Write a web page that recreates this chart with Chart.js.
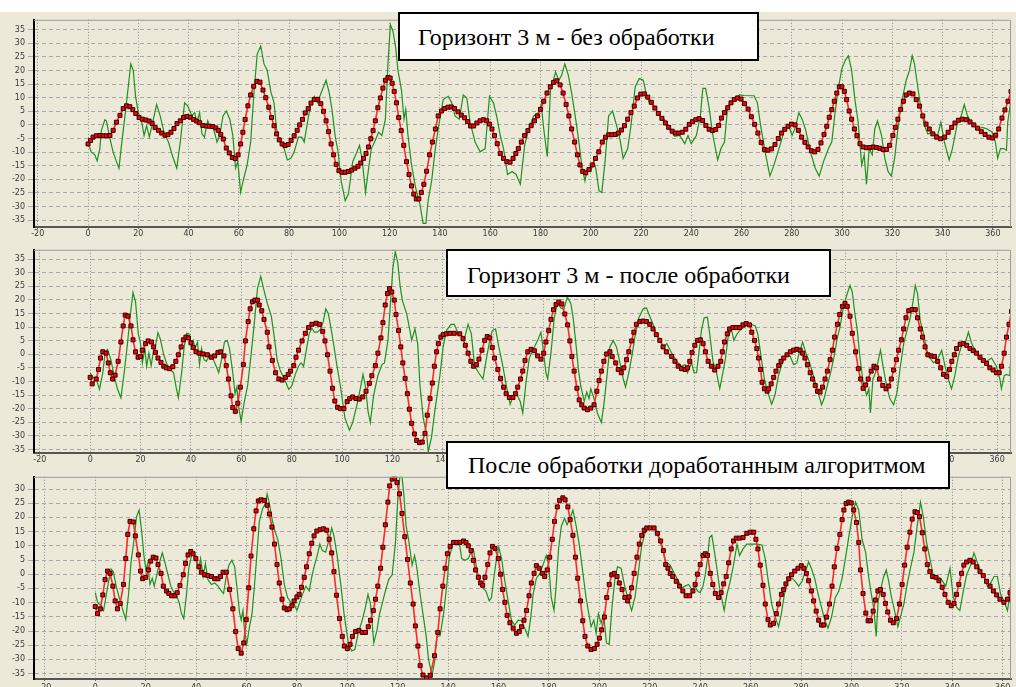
<!DOCTYPE html>
<html><head><meta charset="utf-8">
<script src="https://cdn.jsdelivr.net/npm/chart.js@4.4.0/dist/chart.umd.min.js"></script>
<style>
html,body{margin:0;padding:0;background:#fff;overflow:hidden;width:1016px;height:687px;position:relative;}
canvas{position:absolute;left:0;}
.box{position:absolute;background:#fff;border:2px solid #000;box-sizing:border-box;font-family:"Liberation Serif","Times New Roman",serif;font-size:24px;color:#000;white-space:nowrap;z-index:5;}
</style></head><body>
<canvas id="c1" width="1016" height="230" style="top:12px"></canvas>
<canvas id="c2" width="1016" height="227" style="top:242px"></canvas>
<canvas id="c3" width="1016" height="231" style="top:469px"></canvas>
<div class="box" style="left:398px;top:12px;width:361px;height:49px;line-height:46px;padding-left:18px">Горизонт 3 м - без обработки</div>
<div class="box" style="left:446px;top:249px;width:385px;height:48px;line-height:48px;padding-left:19px">Горизонт 3 м - после обработки</div>
<div class="box" style="left:446px;top:441px;width:504px;height:48px;line-height:44px;padding-left:20px">После обработки доработанным алгоритмом</div>
<script>
// ---- data: [x, value] pairs ----
const xTickStep = 20;
const yTickStep = 5;

const p1Red = [[0,-7],[1,-5.7],[2,-4.5],[3.3,-4],[4.7,-3.9],[6,-4],[7.3,-4],[8.7,-3.9],[10,-2],[11.3,1],[12.7,3.5],[14,6],[15.3,7],[16.6,6.7],[17.8,5.6],[19,4.2],[20.3,2.7],[21.6,2.1],[23,1.8],[24.3,1.4],[25.5,0.6],[26.7,-1],[28,-2],[29.3,-3],[30.6,-3.8],[31.8,-3.6],[33,-2.7],[34.2,-1.3],[35.4,0.5],[36.7,1.5],[38,2.7],[39.3,3.1],[40.7,2.8],[42,2],[43.2,1.4],[44.4,0.8],[45.7,-0.2],[47,-0.4],[48.3,-0.5],[49.6,-0.6],[50.8,-1.1],[51.8,-2],[52.8,-3.5],[53.8,-5.2],[55,-8.5],[56.2,-10.3],[57.4,-12],[58.6,-12.4],[59.7,-11],[60.7,-7],[61.6,-2.7],[62.5,2],[63.6,7],[64.7,11],[65.9,14.2],[67.2,16],[68.4,15.7],[69.6,12.8],[70.7,10],[71.9,6.5],[73,2.7],[74,-0.3],[75,-3.3],[76.1,-5.5],[77.2,-7],[78.4,-7.6],[79.6,-7.2],[80.8,-5.7],[82,-4],[83.2,-2],[84.2,0],[85.3,2],[86.4,4.4],[87.6,6],[88.7,8],[90,9.3],[91.4,9.4],[92.6,7.8],[93.7,5],[94.7,1.5],[95.7,-2.5],[96.7,-7],[97.7,-11],[98.7,-14.5],[99.8,-16.8],[101,-17.4],[102.3,-17.4],[103.6,-17.1],[104.9,-16.6],[106.2,-15.9],[107.4,-15.2],[108.5,-14],[109.6,-12.3],[110.6,-10.5],[111.6,-8.1],[112.5,-5.1],[113.4,-2.1],[114.3,1.5],[115.3,6.3],[116.3,9.9],[117.3,13.5],[118.3,16.4],[119.3,17.4],[120.2,17.2],[121,15.3],[121.8,12.3],[122.7,8.1],[123.6,2.7],[124.6,-2.1],[125.6,-7.5],[126.7,-13.5],[127.7,-18.2],[128.7,-22.4],[129.6,-25.4],[130.6,-27.2],[131.6,-27.2],[132.6,-24.8],[133.6,-21.8],[134.7,-17],[135.9,-11],[137,-6.3],[138.2,-1.5],[139.3,3.3],[140.6,5.1],[141.9,6],[143.2,6.5],[144.5,6.6],[145.8,6],[147.2,4.8],[148.5,3.6],[149.8,2.6],[151,1.2],[152.2,-0.4],[153.4,-0.4],[154.7,0.7],[156,1.5],[157.3,1.9],[158.6,1.5],[159.7,0.3],[160.7,-1.5],[161.7,-3.9],[162.8,-6.9],[164,-10.5],[165.3,-12.3],[166.6,-13.5],[167.9,-13.7],[169.1,-12.3],[170.2,-10.5],[171.2,-8.7],[172.4,-6.3],[173.7,-3.9],[175,-2.1],[176.3,-0.3],[177.6,1.5],[178.8,3.3],[180,5.7],[181.3,8.7],[182.6,11.7],[183.9,14],[185.2,15.6],[186.5,16.2],[187.8,14.7],[189,11.7],[190.2,7.5],[191.3,3.3],[192.4,-1.5],[193.6,-6.3],[194.7,-11],[195.7,-14.7],[196.8,-17.1],[198,-17.6],[199.3,-16.4],[200.6,-14.7],[201.9,-12.3],[203.2,-9.9],[204.6,-6.3],[205.9,-4.5],[207.2,-3.6],[208.5,-3.6],[209.8,-3.5],[211,-3],[212.2,-1.9],[213.4,-0.3],[214.7,2.1],[216,4.5],[217.3,6.9],[218.6,9.9],[219.9,11.3],[221.3,11.4],[222.7,10.2],[224.1,8.3],[225.5,6.2],[226.9,4.2],[228.3,2.4],[229.7,0.7],[231,-0.9],[232.4,-2.3],[233.7,-3],[235,-3],[236.4,-2.7],[237.8,-1.6],[239.2,0.2],[240.5,1.2],[241.8,1.9],[243.1,2.3],[244.5,1.6],[245.8,-0.2],[247.1,-1.6],[248.4,-2.1],[249.7,-1.7],[250.9,-0.2],[252,2.5],[253.2,4.5],[254.5,6.3],[255.8,8.1],[257.1,9.3],[258.4,9.9],[259.8,9.5],[261.2,7.8],[262.6,5.8],[263.9,3],[265.2,0.2],[266.5,-3],[267.8,-6.5],[269.1,-9.1],[270.5,-9.3],[271.9,-8.8],[273.3,-7.2],[274.6,-5],[275.9,-3],[277.2,-1.6],[278.5,-0.5],[279.9,0.3],[281.3,0],[282.6,-2],[283.9,-4.5],[285.2,-6.4],[286.5,-8.1],[287.8,-9.5],[289.1,-9.9],[290.4,-9],[291.6,-6.6],[292.8,-3.5],[293.9,-0.5],[294.9,2.8],[295.9,5.6],[296.9,8.7],[297.9,11.7],[298.9,14],[299.9,14],[300.9,12.3],[301.8,9.3],[302.8,5.1],[303.8,2.1],[304.9,-1.5],[305.9,-3.9],[307.1,-6.9],[308.4,-8.1],[309.7,-8.4],[311,-8.3],[312.4,-8.1],[313.7,-8.3],[315,-8.6],[316.3,-9],[317.7,-9],[318.9,-7.5],[320.2,-3.9],[321.2,-0.9],[322.2,2.1],[323.3,5.7],[324.4,8.7],[325.5,11],[326.8,11.7],[328.2,11.4],[329.5,9.3],[330.8,6.9],[332.1,3.3],[333.4,0.3],[334.7,-1.5],[336.1,-3.3],[337.6,-4.5],[339.2,-5.1],[340.8,-4.5],[342.2,-2.7],[343.6,-0.9],[344.9,0.7],[346.3,1.7],[347.8,2.1],[349.4,1.9],[350.9,1.1],[352.4,0],[353.9,-1.2],[355.4,-2.5],[356.9,-3.5],[358.4,-4.5],[359.8,-4.8],[361.1,-3.8],[362.3,-1.5],[363.6,2.5],[364.8,5.5],[366,8.7],[367.2,12.3]];

const p1Green = [[0,-6.5],[1.3,-10],[2.7,-11],[3.6,-13.2],[4.7,-8.7],[5.3,-2],[6.7,1.9],[7.3,1.5],[8.7,-5],[10,-10],[11.3,-13.5],[12.3,-15.9],[13.3,-7.5],[14.7,3.3],[16,14],[17,22.4],[18,20],[18.9,10.5],[20,4.5],[21.3,1.5],[22.3,-3.9],[23.3,-0.3],[24.4,-4.5],[25.7,0.9],[27.3,7.5],[28.7,3.3],[30.4,-3.3],[32,-6.3],[33.7,-11.7],[35.3,-15.9],[36.7,-6.3],[38.4,8.1],[39.7,6.9],[41.3,3.3],[42.4,4.5],[43.3,0.9],[44.4,4.5],[45.3,-3.3],[46.3,-4.5],[47.6,1.5],[48.7,-0.9],[50,-1.5],[51.3,-6.3],[52.4,-3.9],[53.7,3.3],[55,5.1],[56.4,2.1],[57.6,-3.9],[58.7,-15.9],[59.6,-13.5],[60.7,-24.8],[61.7,-20.6],[63.3,-14.7],[64.7,-6.3],[66,11.7],[67.3,26],[68.7,29],[70,22.4],[71.3,20],[72.7,12.3],[74,8.1],[75,-1.5],[76.4,-6.3],[78,-8.7],[79.3,-12.9],[80.7,-12.3],[82,-9.9],[83.7,-4.5],[85,-4.5],[86,-6.3],[87.3,0.9],[88.7,8.1],[90,10.5],[91.3,8.1],[92.7,11.7],[94.7,16.4],[95.9,12],[97,6],[98.3,-4],[99.5,-10],[100.7,-20.6],[102.3,-27.8],[103.6,-25.4],[105.3,-13.5],[106.7,-10.5],[108,-7.5],[109,-12.3],[110.4,-24.8],[111.3,-18.2],[112.7,-8.7],[114,-6.3],[115.6,-2.7],[116.9,-3.9],[118.3,2.1],[119.3,22.4],[120.3,36.8],[121.3,34.4],[122.4,28.4],[123.3,20],[124.7,12.8],[125.7,2.1],[126.4,5.7],[127.3,-3.9],[128.7,-14.7],[130.3,-23],[132,-29],[133.3,-36.2],[134.4,-36.2],[135.3,-27.8],[136.7,-20.6],[138,-9.9],[139.3,-1.5],[141.3,9.3],[143.3,10.5],[144.7,8.1],[146,3.3],[147.7,2.1],[149.3,11],[150.7,9.9],[152,0.9],[154,-6.3],[156,-9.9],[158,-8.7],[159.7,10.5],[161.3,8.1],[162.7,2.7],[164,-3.9],[165.3,-8.7],[166.9,-18.2],[168.7,-17.1],[170.3,-18.2],[172,-21.8],[173.7,-7.5],[175.3,-1.5],[177.3,3.3],[179.1,4.5],[180.3,7.5],[181.3,-1.5],[182.7,-11.7],[184,12.8],[186,19.4],[187.3,16.4],[188.4,18.2],[189.7,22.4],[191.1,18.2],[192.4,11.7],[194,2.1],[195.3,-6.3],[196.4,-14.7],[197.7,-20.6],[198.7,-15.9],[200,-17.1],[201.1,-13.5],[202,-15.9],[203.3,-24.2],[204.4,-24.8],[205.7,-13.5],[207.1,3.3],[208.7,5.1],[210.3,-0.3],[211.6,-5.1],[212.9,-12.3],[214.7,-8.7],[216,-0.3],[217.7,14],[219.3,17],[220.9,16.4],[222,11.7],[223.3,8.1],[225.3,6.9],[227.3,3.3],[229.3,2.1],[231.3,-1.5],[233.4,-4.2],[235.4,-3.9],[237.4,-6.9],[238.7,-3.9],[240,-6.9],[242,-3.9],[243.6,3.3],[244.6,13.4],[245.7,13.4],[247,6.9],[248.6,-3.9],[250.5,-12.9],[251.8,-8.7],[253.2,-6.3],[254.5,6.9],[255.8,8.1],[257.1,9.3],[259.1,11],[261.1,10.8],[265,10.7],[266.3,8.1],[267.6,-0.3],[269.6,-11],[271.3,-18.8],[272.9,-14.7],[274.9,-8.7],[276.8,-2.7],[278.8,-0.3],[280.1,-3.9],[281.4,-0.9],[282.8,4.5],[284.1,2.1],[285.4,-1.5],[287.4,-9.9],[289.3,-15.9],[290.9,-18.8],[292.6,-13.5],[294.6,-8.7],[295.9,-6.3],[297.2,4.5],[298.6,14],[299.9,20.6],[301.2,23.6],[302.5,25.4],[303.8,20],[305.1,9.3],[306.4,0.9],[307.8,-14.7],[308.8,-11],[309.7,-21.8],[310.8,-8.7],[312,-11],[313,-1.5],[314.1,1.5],[315.7,-3.9],[317,-12.3],[318.3,-17.1],[319.6,-18.8],[320.9,-12.3],[322.2,-1.5],[323.6,8.1],[325.5,16.4],[326.8,20],[327.9,25.4],[328.8,22.4],[330.1,14],[331.4,5.7],[332.8,-0.3],[334.1,-3.3],[336.1,-2.7],[338,-3.9],[339.3,0.9],[340.7,-6.3],[342.6,-12.9],[343.9,-8.7],[345.9,0.9],[347.2,2.7],[348.6,7.5],[349.9,3.3],[351.8,0.3],[353.8,-1.5],[355.8,-0.9],[357.8,-1.5],[359.7,-2.7],[361,-6.3],[361.9,-12.3],[363,-8.7],[364.3,-8.7],[365.4,-9.3],[365.9,0.9],[367,8.1]];

const p2Red = [[0,-8.5],[0.8,-10.9],[2.4,-9.1],[3.3,-5.6],[4.1,-1.4],[5,0.9],[6.3,0.4],[7.2,-3.2],[8,-6.8],[8.9,-9.1],[9.9,-7.7],[11.1,-2.6],[12.2,4.5],[13.1,10.4],[13.9,14.4],[15,14],[16.2,10.4],[17,5.3],[18,0.9],[19,-1.1],[20,-0.8],[20.7,1.5],[22,3.9],[23,4.9],[24.3,4.5],[25.2,2.7],[25.9,0.7],[26.9,-1.4],[28.1,-3],[29.2,-4.4],[30.2,-5],[31.5,-5.3],[32.8,-4.6],[34,-2.6],[35,-0.2],[36.1,2.7],[37,5.3],[38,6.3],[39,6],[40,4.2],[40.9,2.5],[42,0.9],[43.3,0.4],[44.8,0.1],[46.5,-0.2],[48.1,-1.1],[49.4,-0.6],[50.7,0.6],[51.8,0.9],[53.1,-0.6],[54,-4.2],[54.9,-9.1],[55.9,-15.3],[56.6,-19.6],[57.6,-21],[58.6,-18],[59.6,-12.1],[60.8,-3.8],[61.6,4.9],[62.7,12],[63.5,16.7],[64.4,19.3],[65.4,19.9],[66.4,19.9],[67.1,18.1],[68.1,16],[69,12.8],[70.3,8.1],[71,2.7],[72.3,-2.3],[73.6,-6.8],[74.9,-9.1],[76.2,-9.5],[77.5,-8.5],[78.6,-7.4],[79.5,-6.2],[80.8,-4.2],[81.7,-1.1],[82.7,1.5],[84.1,4.9],[85.4,7.7],[86.7,9.8],[88,11],[89.7,11.4],[91,11],[92.3,8.4],[93.2,4.9],[94.2,-0.2],[95.2,-6.2],[96.2,-12.5],[97.1,-17.2],[98.2,-19.5],[99.3,-20],[100.7,-20],[102,-17.4],[103,-16.3],[104.2,-15.7],[105.5,-16.3],[106.8,-16.5],[108.2,-15.7],[109.5,-13.6],[110.8,-10.7],[111.8,-7.9],[113.2,-4.2],[114.2,0.4],[115.4,6],[116.2,11.6],[117.1,18.1],[118,22.3],[118.8,24.1],[119.7,22.9],[120.7,19.9],[121.4,14.6],[122.4,8.7],[123.3,2.7],[124.1,-3.2],[125,-8.9],[125.9,-14.5],[126.7,-20.2],[127.6,-25.4],[128.7,-29.3],[129.6,-31.7],[130.7,-32.5],[131.8,-32.3],[132.9,-29.1],[133.8,-22.4],[134.9,-16.3],[135.8,-10.6],[136.6,-4.4],[137.5,0.9],[138.2,3.9],[139.2,6.3],[140.1,7.2],[141.4,7.5],[142.8,7.7],[144.5,7.7],[146.7,7.5],[148,5.7],[148.9,3.3],[150,0.4],[151.1,-2.6],[152.2,-4.4],[153.3,-3.8],[154.3,-1.8],[155.5,1.5],[156.6,5.1],[157.6,6.5],[158.6,6],[159.6,2.5],[160.5,-1.4],[161.8,-5.6],[162.9,-8.9],[164.1,-12.1],[165.1,-14.5],[166.4,-15.9],[167.8,-15.9],[168.8,-14.5],[169.7,-12.1],[170.8,-9.1],[171.7,-6.2],[172.6,-2.3],[173.7,0.9],[175,1.8],[176.3,1.3],[177.6,-0.6],[178.9,-1.8],[180,0.4],[180.9,4.5],[182,8.7],[182.9,12.8],[183.9,16.4],[184.9,18.3],[186,19.2],[187.2,18.5],[188.4,14.8],[189.5,10.8],[190.4,4.9],[191.2,-0.8],[192.1,-6.2],[193.2,-12.5],[194.1,-16.8],[195.1,-18.6],[196.1,-19.8],[197.4,-20.4],[198.7,-19.8],[200,-18.6],[201.1,-13.6],[202,-9.7],[202.9,-6.2],[203.9,-2.6],[205,0.1],[206.3,0.9],[207.2,-0.8],[208.6,-3.2],[209.6,-5.6],[210.8,-6.8],[211.8,-5],[212.9,-2],[213.8,0.9],[214.9,4.9],[215.8,8.1],[216.8,11],[218.2,12],[219.5,12.2],[220.8,12],[222.1,11],[223.4,9.3],[224.7,7.2],[226.1,5.1],[227.4,2.7],[228.7,0.9],[230.8,-0.8],[232.1,-2.6],[233.4,-4.4],[234.7,-5.3],[236.1,-5.6],[237.1,-5],[238,-2.6],[238.9,0.6],[240,3.3],[241.1,5.1],[242.2,5.3],[243.3,3.9],[244.2,0.9],[245.3,-2.6],[246.6,-4.4],[247.9,-5.8],[249.2,-4.4],[250.3,-2.6],[250.9,0.9],[251.8,4.5],[252.9,7.5],[253.8,9.3],[255.1,9.8],[256.4,9.8],[257.8,9.8],[259.1,10.8],[260.4,11.3],[261.7,10.8],[262.6,8.1],[263.7,5.1],[264.6,2.1],[265.3,-1.4],[266.1,-5.6],[266.7,-10.3],[267.6,-12.7],[268.7,-13.6],[269.3,-12.7],[270.3,-10.9],[271.3,-8.5],[272.2,-6.2],[273.3,-4.2],[274.2,-2.6],[275.3,-1.4],[276.6,-0.2],[277.9,0.9],[279.2,1.5],[280.5,1.8],[281.8,1.5],[282.8,0.4],[283.7,-1.4],[284.7,-3.8],[285.8,-6.8],[286.7,-9.1],[287.8,-11.5],[288.7,-13.6],[289.7,-13.9],[290.7,-12.1],[291.7,-9.1],[292.6,-6.2],[293.7,-2],[294.6,1.5],[295.5,6.3],[296.6,11],[297.5,14.6],[298.6,17.6],[299.6,18.7],[300.5,17.6],[301.6,14],[302.5,7.7],[303.8,0.9],[304.9,-5.3],[305.8,-9.1],[306.8,-12.5],[307.8,-11.3],[308.8,-9.1],[310,-6.2],[311.1,-4.4],[312.1,-5],[313.3,-9.1],[314.6,-11.5],[315.9,-12.7],[317,-11.7],[318,-9.1],[318.9,-5.8],[320,-2],[320.9,1.5],[322,5.3],[322.9,9.3],[323.8,13.4],[324.9,16],[326.2,16.4],[327.5,16.4],[328.4,13.4],[329.5,9.3],[330.4,6.3],[331.4,2.7],[332.5,-0.2],[333.8,-0.6],[335.1,-0.8],[336.4,-2.6],[337.6,-5],[338.7,-7.4],[340,-8.2],[341.1,-5.6],[342,-2.6],[343,-0.2],[343.9,2.1],[345.3,3.7],[346.6,3.9],[347.9,3.3],[349.2,2.1],[350.5,1.3],[351.8,0.4],[353.2,-1.1],[354.5,-2.3],[355.8,-3.4],[357.1,-5],[358.4,-5.8],[359.7,-6.8],[360.8,-6.8],[361.7,-4.4],[362.8,0.4],[363.7,6.3],[364.7,11],[365.7,15.8]];

const p2Green = [[0,-6.8],[1,-8.5],[2.4,-9.1],[3.7,-12.9],[5,-6.8],[6,0.9],[6.9,1.8],[8.2,-2],[9.5,-7.9],[10.8,-12.7],[12.2,-16],[13.5,-6.8],[14.8,3.9],[15.8,13.4],[17,22.7],[18,19.3],[19.1,7.5],[20,3.9],[20.7,-3.2],[21.7,2.1],[22.4,-4.4],[23.3,0.4],[24.2,-4.2],[25.2,1.5],[25.9,3],[26.9,7.9],[27.8,5.7],[29.2,-0.2],[30.5,-3.8],[31.8,-5.6],[33.1,-6.8],[34.1,-12.1],[35,-16],[36.3,-6.8],[37.3,2.7],[38.3,7.7],[39.2,7.5],[40.3,2.7],[40.9,4.9],[41.6,2.1],[42.6,4.5],[43.4,-3.8],[44.2,2.1],[45.2,-2],[46.1,-2.6],[47.5,-0.2],[48.8,-1.8],[50.1,-4.6],[51,-6.8],[52,-2.6],[53.3,4.5],[54.4,5.1],[55.3,2.1],[56.6,-6.8],[57.5,-14.5],[58.2,-12.1],[58.8,-18.6],[59.9,-24.6],[61.2,-17.4],[62.5,-11.5],[63.8,-0.8],[65.1,11],[66.4,24.1],[67.7,28.6],[69,23.5],[70.3,18.7],[71.9,14],[72.9,7.5],[74.2,-2],[75.5,-6.2],[77.1,-9.1],[78.8,-12.9],[80.1,-11.5],[81.4,-7.4],[82.7,-4.4],[83.7,-3.2],[84.7,-4.4],[85.8,1.5],[86.9,7.5],[88,9.6],[89,8.1],[90.2,8.1],[91.5,9.3],[92.5,12],[93.5,16.7],[94.5,15],[95.6,9.5],[96.7,3.3],[97.9,-4],[99.3,-11.5],[101.1,-23.4],[102.9,-27.9],[104.2,-25.1],[105.9,-18.6],[107.2,-12.7],[108.3,-7.4],[109.2,-11.5],[110.3,-21],[111.2,-25.1],[112.5,-15.1],[114.2,-7.9],[115.8,-3.8],[116.8,-3.2],[118.2,5.1],[119.1,17.6],[120.1,31.2],[121.1,37.7],[122.1,33.6],[123,25.3],[123.9,19.9],[125.7,14.6],[126.7,9.8],[127.6,5.1],[128.9,9.3],[130,3.9],[130.9,-11.5],[132.2,-23.4],[133.6,-29.9],[134.2,-35.8],[135.5,-30.5],[136.6,-22.2],[137.5,-16.3],[138.8,-7.9],[140.1,2.7],[141.4,8.7],[143.2,11],[144.5,11],[146.1,7.5],[147.4,6.8],[148.7,6.3],[150,11],[151.3,7.5],[152.6,-4.4],[154.2,-6.8],[155.9,-9.1],[157.2,-2],[158.6,5.1],[159.6,8.7],[160.9,9.3],[162.2,2.7],[163.8,-4.4],[165.4,-12.7],[166.7,-18.4],[168,-15.1],[169.3,-14.8],[170.7,-17.4],[171.7,-21.6],[173,-10.3],[174.3,-1.4],[175.7,1.5],[177.6,5.1],[178.9,8.1],[179.6,3.3],[180.9,-6.8],[181.6,-9.1],[182.9,0.4],[184.2,13.4],[185.5,19],[186.8,17],[188,16.5],[189.4,21],[190.8,18.7],[191.7,13.4],[192.8,3.9],[193.8,-5.6],[194.7,-11.5],[196.1,-17.4],[197.1,-13.9],[198,-16.3],[198.7,-12.7],[200,-16.3],[201.3,-21.6],[202.9,-25.1],[203.9,-18.6],[205,-9.1],[206.3,2.7],[207.6,5.1],[208.9,2.7],[210.3,-3.2],[211.6,-9.1],[212.5,-12.1],[213.8,-6.8],[215.1,-0.2],[216.4,7.5],[217.8,13.4],[219.5,16.7],[220.8,17],[222.1,14],[223.4,11],[224.7,7.5],[226.3,5.1],[227.6,2.7],[228.9,3.9],[230.8,0.4],[232.8,-2.6],[234.7,-4.4],[236.1,-3.8],[237.1,-6.8],[238.7,-3.2],[239.7,-6.8],[240.7,-6.8],[241.6,0.4],[242.6,8.7],[243.7,13.4],[245,13.6],[245.9,7.5],[247.2,-2.6],[248.6,-6.8],[249.9,-12.7],[250.9,-7.9],[252.1,-2],[253.2,6.3],[254.5,9.3],[255.5,5.1],[256.8,7.5],[258.4,9.3],[260.4,10.4],[262.4,11],[264,10.4],[265,7.5],[266.3,-0.8],[267.6,-9.1],[268.9,-13.9],[270.5,-18.4],[271.8,-15.1],[273.2,-7.9],[274.9,-2.6],[276.6,0.1],[277.9,-0.8],[279.2,-3.8],[280.5,-3.2],[281.4,0.4],[282.8,4.5],[284.1,0.4],[285.4,-2.6],[287.1,-7.9],[288.7,-13.3],[290.3,-18.6],[291.3,-16.3],[292.6,-11.5],[293.9,-6.8],[295.3,-0.8],[296.6,6.3],[297.6,9.8],[298.9,17],[300.3,21.7],[301.6,25.3],[302.5,22.9],[303.4,15.8],[304.5,8.7],[305.5,-0.8],[306.8,-10.3],[308.2,-15.1],[309.1,-12.7],[309.7,-21.6],[310.7,-9.1],[311.7,-6.8],[312.6,-3.2],[313.7,1.5],[314.7,-4.4],[316.1,-11.5],[317.4,-16.3],[318.9,-18.6],[320.3,-13.9],[321.6,-4.4],[322.9,3.9],[324.2,8.7],[325.5,13.4],[326.6,19.3],[327.5,25.3],[328.4,22.3],[329.5,12.2],[330.8,7.5],[332.1,1.5],[333.4,-1.4],[334.7,-3.2],[336.3,-2],[338,1.5],[339.3,-4.4],[340.6,-9.1],[341.9,-12.7],[343.2,-7.9],[344.6,-0.8],[345.9,3.3],[347.2,3.9],[348.6,8.1],[349.9,3.9],[351.8,0.4],[353.8,-1.4],[355.8,-2.6],[357.8,-1.4],[359.7,-4.4],[361.1,-9.1],[361.7,-12.7],[362.8,-7.9],[363.7,-7.4],[365,-7.9],[365.7,2.7]];

const p3Red = [[0,-11.4],[0.9,-13.9],[2,-12.2],[3,-7.3],[3.9,-1.9],[4.9,1.1],[5.9,0.3],[7,-4.2],[7.9,-9.4],[8.8,-12.2],[9.9,-10.3],[11.2,-3.6],[12.1,5.5],[12.9,14],[13.8,18.6],[15.1,18.4],[15.9,13.5],[17.1,6.8],[18,1.1],[18.8,-1.6],[20,-1.1],[21.1,1.5],[22,4.6],[23,6],[24.1,5.7],[24.9,3.4],[26.1,0.3],[27,-4.2],[28.3,-5.9],[29.2,-6.8],[30.3,-7.6],[31.6,-7.6],[32.5,-6.5],[33.6,-4],[34.9,-0.2],[35.8,3.8],[36.8,6.8],[37.9,8],[38.8,7.2],[39.9,5.5],[41.1,2.6],[42.1,0.7],[43.4,-0.2],[44.7,-0.5],[46.1,-0.8],[47.4,-1.6],[48.7,-1.6],[49.7,-0.8],[50.7,0.7],[52,0.7],[53.3,-5.4],[54.6,-12.2],[55.7,-20.2],[56.7,-26.2],[57.9,-27.8],[58.9,-24.2],[59.9,-16],[60.9,-4.8],[61.8,6.4],[62.9,16],[63.8,22.3],[64.7,25.8],[65.8,26.2],[67.1,26],[68.2,24.3],[69.1,21.2],[70.1,16.6],[71.1,10.6],[72.1,3.4],[73,-3.1],[74.1,-8.8],[75,-11.9],[76.1,-12.5],[77,-12.2],[78,-11.1],[78.9,-9.4],[80,-8],[80.9,-7.1],[81.8,-4.6],[82.9,-1.1],[83.8,2.6],[84.9,7.2],[85.9,10.9],[86.8,13.5],[87.9,15.2],[89.2,15.7],[90.5,16],[91.8,15.5],[92.8,12.3],[93.8,7.5],[94.7,0.9],[95.7,-7.4],[96.9,-15.6],[98,-21.9],[98.8,-25.3],[100,-26.2],[101.1,-24.7],[102,-21.9],[103.3,-20.2],[104.6,-19.8],[105.9,-20.5],[107.2,-20.5],[108.3,-18.5],[109.2,-16.2],[110.3,-12.8],[111.2,-8.8],[112.1,-4.2],[113.2,2.1],[114.1,9.5],[115.1,17.4],[116.1,25.4],[116.8,31.1],[117.8,33.5],[118.8,33.8],[119.7,32.3],[120.7,28.3],[121.7,21.4],[122.8,13.2],[123.9,5.2],[125,-3.1],[126.1,-10.5],[127,-18.2],[128,-25.3],[128.9,-32.2],[130,-35.5],[131.4,-36.5],[132.9,-35.6],[134.6,-28.7],[135.9,-20.5],[136.8,-12.2],[137.9,-4.2],[138.8,2.1],[139.7,7.2],[140.8,9.8],[142.1,11.2],[143.4,11.2],[144.7,11.2],[146.1,11.7],[147.1,11.2],[148,10],[149.1,8.3],[150,4.9],[150.9,1.5],[152,-1.1],[152.9,-3.1],[153.7,-3.9],[154.6,-1.1],[155.7,3.4],[156.6,7.5],[157.6,9.8],[158.6,9.1],[159.9,5.5],[160.8,0],[161.6,-5.4],[162.5,-9.9],[163.4,-14.5],[164.5,-17.1],[165.8,-19],[167.1,-20.8],[168.2,-20.2],[169.1,-18.5],[170.1,-16.2],[171.1,-12.8],[172.1,-7.6],[173,-3.1],[174.1,0.3],[175,3],[176.1,2.1],[177.4,0.3],[178.3,-0.8],[179.3,1.5],[180.3,6],[181.3,12.3],[182.2,18.6],[183.3,23.7],[184.2,26],[185.5,26.9],[186.4,26.2],[187.5,23.7],[188.4,19.2],[189.5,13.7],[190.5,6],[191.4,-1.4],[192.5,-9.4],[193.4,-16.4],[194.3,-21.9],[195.4,-25.3],[196.7,-26.5],[198,-26.2],[199.1,-24.7],[200,-22.5],[200.9,-19.6],[202,-15.1],[202.9,-8.2],[203.9,-3.6],[204.9,-0.2],[205.9,0.3],[207,-0.8],[207.9,-3.1],[209,-5.4],[210.1,-8.2],[211.2,-9.4],[211.8,-8],[212.8,-4.8],[213.8,0.3],[214.9,6],[215.8,10.6],[216.8,13.7],[217.8,15.5],[218.8,16.3],[220.1,16.3],[221.7,16.3],[223,14.4],[224.3,11.7],[225.4,8.3],[226.3,3.4],[227.2,2.1],[228.1,0.3],[229.1,-0.8],[230.5,-2.5],[231.8,-4.2],[233.1,-5.9],[234.4,-7.6],[235.8,-7.6],[237.1,-5.9],[238,-3.6],[238.9,0],[240,3.4],[241.1,6.6],[242,7.2],[242.9,6.6],[244,0.3],[245,-3.6],[246,-6.8],[247.3,-8.2],[248.3,-6.5],[249.3,-3.4],[250.3,-0.8],[251.3,4],[252.3,8.9],[253.2,11.7],[254.3,12.7],[255.6,12.7],[257,12.9],[258.5,14.4],[259.9,14.8],[261.2,14.8],[262.1,12.3],[262.9,8.9],[263.8,3.2],[264.9,-3.9],[265.8,-10.5],[266.9,-16],[267.8,-17.9],[269.1,-17.3],[270.2,-13.9],[271.1,-10.5],[272.2,-7.1],[273.1,-5.4],[274,-3.4],[275.1,-1.6],[276.2,-0.2],[277.5,1.1],[278.8,2.1],[280.1,3],[281.1,2.1],[282.1,0.3],[283,-2.3],[284.1,-5.9],[285,-9.4],[286,-13],[287,-16.2],[288.1,-17.9],[289,-17.9],[290.1,-15.1],[291.3,-10.5],[292.3,-4.2],[293.2,2.6],[294.3,9.1],[295.4,14],[296.3,19.2],[297,22.6],[297.9,24.9],[298.9,25.4],[299.9,25.1],[300.9,22.6],[302,18.2],[302.9,11.2],[303.6,1.5],[304.6,-6.8],[305.7,-13.7],[306.6,-16.4],[307.5,-16.4],[308.6,-13],[309.5,-9.1],[310.5,-5.9],[311.5,-5.4],[312.6,-7.1],[313.5,-10.3],[314.4,-13.3],[315.5,-16.2],[316.6,-17.1],[317.9,-15.6],[319.1,-10.5],[320.1,-3.6],[321.1,3.2],[322.1,9.5],[323.2,14.8],[324.1,19.4],[325.2,22],[326.1,21.7],[327,20.3],[328.1,14.6],[329.1,8.9],[330.1,3.4],[331.1,0.9],[332.2,-0.8],[333.5,-1.1],[334.7,-2.3],[336,-4.6],[337.1,-7.1],[338.4,-9.9],[339.6,-11.1],[340.7,-10.3],[341.7,-7.1],[342.6,-3.6],[343.7,0.3],[344.6,3.2],[345.7,4.3],[347,4.9],[348.3,4.3],[349.7,2.6],[351,0.9],[352.3,-0.5],[353.6,-2.5],[355,-4.2],[356.3,-5.9],[357.6,-7.3],[358.9,-8.8],[360.5,-9.9],[361.9,-8.8],[362.9,-6.5],[363.8,-0.2],[365,4]];

const p3Green = [[0,-6.5],[0.9,-9.9],[2.2,-11.1],[3.3,-12.8],[4.2,-8.2],[5.3,-2.5],[6.3,1.8],[7.2,0.9],[8.3,-4.2],[9.5,-8.2],[10.8,-12.2],[12.1,-16],[13.2,-7.1],[14.2,4.3],[15.4,12.3],[16.4,20.3],[17.4,22.6],[18.4,15.2],[19.3,6.6],[20.1,1.5],[20.8,3.8],[21.7,-3.6],[22.6,-1.4],[23.4,-4.2],[24.3,-0.8],[25.4,3.8],[26.6,7.5],[27.6,4.3],[28.7,0.3],[30,-4.2],[30.9,-5.9],[32.2,-7.6],[33.3,-9.9],[34.2,-13.9],[35.1,-15.6],[36.2,-7.1],[37.1,2.1],[38.2,6.6],[39.2,7.8],[40.1,4.3],[41.1,2.1],[41.8,5.5],[42.8,-0.8],[43.7,3.8],[44.7,-1.9],[46.1,-3.6],[47.4,-3.1],[48.7,-4.2],[50,-5.9],[50.9,-6.8],[52,-0.8],[53,3.2],[54.2,4.9],[55.3,2.6],[56.3,-5.4],[57.2,-13.3],[57.9,-16.2],[58.6,-12.8],[59.2,-19.6],[60.1,-24.7],[61.2,-18.5],[62.2,-13.9],[63.2,-3.6],[64.2,7.8],[65.1,18.6],[66.4,23.1],[67.5,24.9],[68.2,28.3],[69.1,24.9],[70.1,19.7],[71.1,15.7],[72.4,12.3],[73.7,5.5],[75,-3.6],[76.3,-8.2],[77.6,-9.9],[78.9,-10.5],[80,-12.8],[80.9,-10.5],[82.2,-7.1],[83.6,-4.2],[84.9,-5.9],[85.8,-1.4],[86.8,2.6],[87.9,6],[89.1,10.6],[90.1,8.3],[91.4,7.8],[92.8,12.3],[93.8,16.3],[94.7,13.5],[95.9,7],[97.4,-3.6],[98.7,-13.9],[100.4,-24.2],[101.7,-27],[103,-26.5],[104.3,-20.8],[105.9,-16.2],[107.2,-11.6],[108.2,-7.1],[109.2,-10.5],[110.5,-24.2],[111.8,-19.6],[112.8,-13.9],[113.8,-10.5],[115.1,-5.9],[116.4,-1.9],[117.8,-0.2],[119.1,11.2],[120,26],[120.8,34],[121.4,37],[122.4,28.3],[123.3,17.1],[124.3,12.3],[125.7,3.2],[126.7,6.6],[127.6,2.1],[128.7,-5.9],[130,-13.9],[131.3,-21.9],[132.2,-29.9],[133.6,-35.6],[134.6,-31],[135.5,-21.9],[136.8,-21.7],[138.2,-13.9],[139.5,-3.6],[140.4,5.5],[141.7,10.3],[143.4,11.2],[144.5,10.6],[145.4,5.5],[146.7,4.9],[148,5.5],[149.1,7.8],[150,8.9],[151.1,3.2],[152.4,-3.1],[153.7,-4.8],[155,-5.9],[156.3,-9.4],[157.2,-8.2],[158.3,-0.2],[159.2,5.5],[160.1,9.5],[161.2,5.5],[162.5,-2.5],[163.8,-9.4],[165.1,-16.2],[166.4,-17.9],[167.8,-16.2],[169.1,-16.4],[170.4,-19],[171.7,-21.9],[172.8,-15.1],[173.7,-7.1],[175,-1.4],[176.4,0.3],[177.6,3.2],[178.9,6.6],[179.9,3.2],[180.9,-8.2],[182,-12.8],[182.9,-3.6],[183.8,8.9],[184.9,16.9],[186.2,19.7],[187.2,17.4],[188.2,19.2],[189.5,22.6],[190.8,16.9],[192.1,10],[193.4,0.9],[194.7,-8.2],[195.8,-13.9],[196.7,-18.5],[197.8,-16.2],[198.7,-20.8],[199.6,-13.9],[200.7,-17.3],[201.7,-13.9],[202.8,-24.2],[203.9,-24.7],[205,-11.6],[206.2,-1.4],[207.2,2.6],[208.6,2.1],[209.9,-3.6],[211.2,-8.2],[212.8,-12.8],[214.1,-8.2],[215.4,0.3],[216.7,9.5],[218.1,14.6],[219.3,16.3],[221.1,16.3],[222.4,15.7],[223.7,12.3],[225.1,8.9],[226.3,4.3],[228.1,3.2],[229.7,0.3],[231.4,-2.5],[232.7,-4.8],[234,-4.2],[235.4,-3.6],[236.7,-5.4],[238,-4.2],[238.9,-5.9],[240,-6.5],[241.1,-4.2],[242,-0.2],[242.9,5.5],[243.7,12.9],[244.6,13.7],[245.6,8.3],[246.6,2.1],[247.7,-4.8],[248.6,-8.8],[249.5,-12.8],[250.6,-7.1],[251.9,-2.5],[253.2,3.2],[254.6,10.6],[255.6,6.6],[257,8.9],[258.5,10.6],[260.5,10.6],[262.5,10.6],[264.5,10.3],[265.8,5.5],[267.2,-3.6],[268.5,-11.1],[269.8,-15.1],[271.1,-18.5],[272.2,-13.9],[273.4,-7.1],[274.7,-2.5],[276.4,-1.4],[277.7,-2.5],[279.1,-4.2],[280.4,-2.5],[281.7,0.9],[283,4.3],[284.1,2.1],[285.4,-1.4],[286.8,-7.1],[288.1,-11.6],[289.4,-16.2],[290.7,-19],[292.1,-15.1],[293.6,-8.2],[295,-5.9],[296.3,-1.4],[297.6,5.5],[298.9,12.9],[300.3,20.3],[301.6,25.4],[302.9,22.6],[304.2,12.3],[305.6,7.8],[306.9,-1.4],[307.9,-7.1],[308.9,-12.2],[309.8,-21.9],[310.6,-9.4],[311.5,-5.9],[312.6,-1.4],[313.8,1.5],[314.8,-2.5],[315.9,-8.2],[317.1,-12.8],[318.4,-18.5],[319.4,-15.1],[320.8,-10.5],[322.1,-3.6],[323.4,2.1],[324.8,7.8],[326.1,17.1],[327.4,25.4],[328.5,20.3],[329.8,11.2],[331.4,4.3],[332.7,-1.4],[334,-0.8],[335.4,-1.4],[337.4,-4.2],[339.1,2.1],[340.4,-8.2],[341.7,-11.6],[343,-12.8],[344.4,-5.9],[345.7,-0.2],[347.3,3.2],[348.6,7.5],[349.9,4.3],[351.3,0.9],[352.6,-0.8],[353.9,-4.2],[355.2,-3.1],[356.6,-0.8],[357.9,-0.8],[359.2,-7.1],[360.5,-9.4],[361.9,-12.8],[362.9,-7.1],[363.8,-3.6]];

// ---- rendering ----
Chart.defaults.font.family = "'DejaVu Sans', Verdana, sans-serif";
Chart.defaults.font.size = 8;
Chart.defaults.color = '#3a3a3a';

const panelBg = {
  id: 'panelBg',
  beforeDraw(chart) {
    const c = chart.ctx;
    c.save();
    c.fillStyle = '#ECE9D8';
    c.fillRect(0, 0, chart.width, chart.height);
    c.restore();
  },
  afterDraw(chart) {
    const a = chart.chartArea, c = chart.ctx;
    c.save();
    c.strokeStyle = '#9a9a9a';
    c.lineWidth = 1;
    c.beginPath();
    c.moveTo(a.left, a.top + 0.5);
    c.lineTo(a.right - 0.5, a.top + 0.5);
    c.lineTo(a.right - 0.5, a.bottom);
    c.stroke();
    c.restore();
  }
};

function pts(arr) { return arr.map(p => ({x: p[0], y: p[1]})); }

function makePanel(id, red, green, cfg) {
  return new Chart(document.getElementById(id), {
    type: 'line',
    data: {
      datasets: [
        { data: pts(red), borderColor: 'rgb(255,40,40)', borderWidth: 1.6, tension: 0,
          pointStyle: 'rect', pointRadius: 2.8, pointBackgroundColor: '#ff0000',
          pointBorderColor: '#2a0000', pointBorderWidth: 1, clip: 0 },
        { data: pts(green), borderColor: 'rgb(30,145,30)', borderWidth: 1.2, tension: 0,
          pointRadius: 0, clip: 0 }
      ]
    },
    options: {
      responsive: false, animation: false, devicePixelRatio: 1, events: [],
      layout: { padding: { left: 0, right: 2, top: cfg.padTop, bottom: 0 } },
      plugins: { legend: { display: false }, tooltip: { enabled: false } },
      scales: {
        x: {
          type: 'linear', min: cfg.xmin, max: cfg.xmax,
          afterFit: s => { s.height = cfg.xh; },
          ticks: { stepSize: xTickStep, includeBounds: false, padding: cfg.xpad, maxRotation: 0, autoSkip: false },
          grid: { color: '#8c8c8c', lineWidth: 1, drawTicks: true, tickLength: 2, tickColor: '#666' },
          border: { color: '#555', width: 2, dash: [1, 2] }
        },
        y: {
          min: cfg.ymin, max: cfg.ymax,
          afterFit: s => { s.width = 34; },
          ticks: { stepSize: yTickStep, includeBounds: false, padding: 3, autoSkip: false },
          grid: { color: '#a8a8a8', lineWidth: 1, drawTicks: true, tickLength: 6, tickColor: '#a8a8a8' },
          border: { color: '#000', width: 2, dash: [4, 3] }
        }
      }
    },
    plugins: [panelBg]
  });
}

makePanel('c1', p1Red, p1Green, { xmin: -21.5, xmax: 367.2, ymin: -37.5, ymax: 38.6, padTop: 3, xh: 15, xpad: 0 });
makePanel('c2', p2Red, p2Green, { xmin: -22.3, xmax: 365.5, ymin: -36.2, ymax: 38.4, padTop: 1, xh: 16.3, xpad: 0 });
makePanel('c3', p3Red, p3Green, { xmin: -24.3, xmax: 363.3, ymin: -36.9, ymax: 34.3, padTop: 1.7, xh: 21, xpad: 2 });
</script>
</body></html>
